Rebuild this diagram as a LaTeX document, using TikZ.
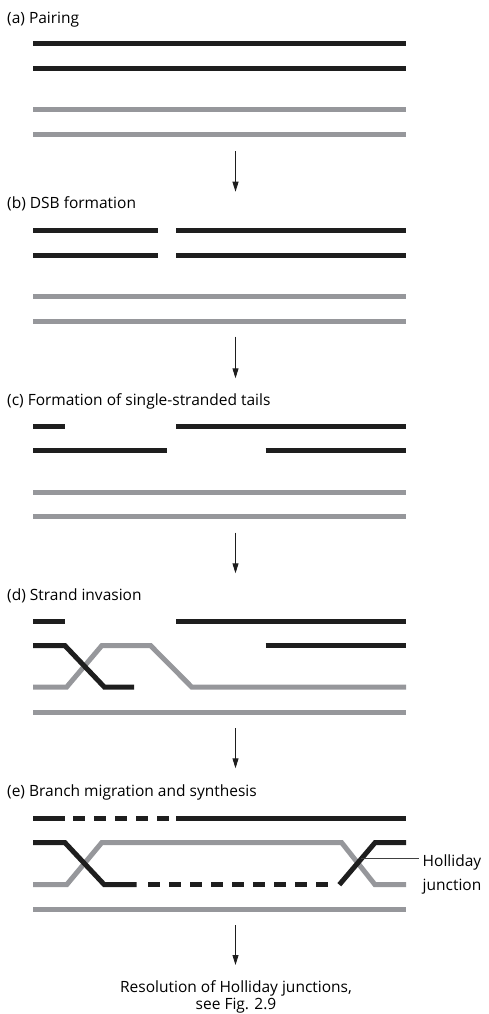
\documentclass[tikz,border=0pt]{standalone}
\usepackage{fontspec}
\setmainfont{Open Sans}
\usetikzlibrary{arrows.meta}
\definecolor{strandblack}{RGB}{30,30,30}
\definecolor{strandgray}{RGB}{150,151,155}
\begin{document}
\begin{tikzpicture}[x=1pt,y=-1pt,
  dup/.style={line width=5pt,strandblack,line join=miter},
  hom/.style={line width=5pt,strandgray,line join=miter},
  dashseg/.style={dup,dash pattern=on 11.5pt off 9.5pt},
  steplabel/.style={anchor=base west,inner sep=0pt,font=\fontsize{15.5}{18}\selectfont},
  flow/.style={line width=0.9pt,strandblack,-{Triangle[length=10pt,width=6pt]}},
  leader/.style={line width=0.7pt,black!75}]
\useasboundingbox (0,0) rectangle (488,1014);

% (a) pairing of the two homologues
\node[steplabel] (la) at (7,24) {(a) Pairing};
\draw[dup] (33,44) -- (406,44);
\draw[dup] (33,68.7) -- (406,68.7);
\draw[hom] (33,110) -- (406,110);
\draw[hom] (33,134.7) -- (406,134.7);

% (b) double-strand break
\node[steplabel] (lb) at (7,208.5) {(b) DSB formation};
\draw[dup] (33,230.7) -- (157.7,230.7);
\draw[dup] (176,230.7) -- (406,230.7);
\draw[dup] (33,255.3) -- (157.7,255.3);
\draw[dup] (176,255.3) -- (406,255.3);
\draw[hom] (33,296.7) -- (406,296.7);
\draw[hom] (33,321) -- (406,321);

% (c) resection leaves single-stranded tails
\node[steplabel] (lc) at (7,405) {(c) Formation of single-stranded tails};
\draw[dup] (33,426) -- (65,426);
\draw[dup] (176,426) -- (406,426);
\draw[dup] (33,450.3) -- (167.3,450.3);
\draw[dup] (265.7,450.3) -- (406,450.3);
\draw[hom] (33,492) -- (406,492);
\draw[hom] (33,516.7) -- (406,516.7);

% (d) the tail invades the homologue
\node[steplabel] (ld) at (7,600) {(d) Strand invasion};
\draw[dup] (33,621) -- (65,621);
\draw[dup] (176,621) -- (406,621);
\draw[dup] (265.7,645.7) -- (406,645.7);
\draw[hom] (33,687) -- (66.7,687) -- (101.7,645.7) -- (150.7,645.7) -- (191.7,687) -- (406,687);
\draw[dup] (33,645.7) -- (65,645.7) -- (104.3,687) -- (134,687);
\draw[hom] (33,712) -- (406,712);

% (e) branch migration and repair synthesis
\node[steplabel] (le) at (7,796.5) {(e) Branch migration and synthesis};
\draw[dup] (33,818.7) -- (65,818.7);
\draw[dashseg] (73.3,818.7) -- (169.3,818.7);
\draw[dup] (176,818.7) -- (406,818.7);
\draw[hom] (33,884.7) -- (66.7,884.7) -- (101.7,842.7) -- (341.7,842.7) -- (375,884.7) -- (406,884.7);
\draw[dup] (33,842.7) -- (65,842.7) -- (104.3,884.7) -- (136.7,884.7);
\draw[dashseg] (148.3,884.7) -- (328,884.7);
\draw[dup] (339.3,884.7) -- (375,842.7) -- (406,842.7);
\draw[hom] (33,909) -- (406,909);

% label of the right-hand junction; the base anchor sits on the last line
\node[anchor=base west,inner sep=0pt,align=left,font=\fontsize{15.5}{24}\selectfont] (hj) at (422.5,890) {Holliday\\junction};
\coordinate (hjx) at (361,858.5);
\draw[leader] (hjx) -- ([xshift=-4pt]hjx -| hj.west);

% flow arrows between the stages
\coordinate (a1) at (235.5,151);   \coordinate (a2) at (235.5,191.7);
\coordinate (b1) at (235.5,336.7); \coordinate (b2) at (235.5,378.3);
\coordinate (c1) at (235.5,532.7); \coordinate (c2) at (235.5,573.3);
\coordinate (d1) at (235.5,728.3); \coordinate (d2) at (235.5,768.3);
\coordinate (e1) at (235.5,925);   \coordinate (e2) at (235.5,965);
\draw[flow] (a1) -- (a2);
\draw[flow] (b1) -- (b2);
\draw[flow] (c1) -- (c2);
\draw[flow] (d1) -- (d2);
\draw[flow] (e1) -- (e2);

\node[anchor=base,inner sep=0pt,align=center,font=\fontsize{15.5}{17}\selectfont] (res) at (236,1009.5) {Resolution of Holliday junctions,\\see Fig. 2.9};
\end{tikzpicture}
\end{document}
